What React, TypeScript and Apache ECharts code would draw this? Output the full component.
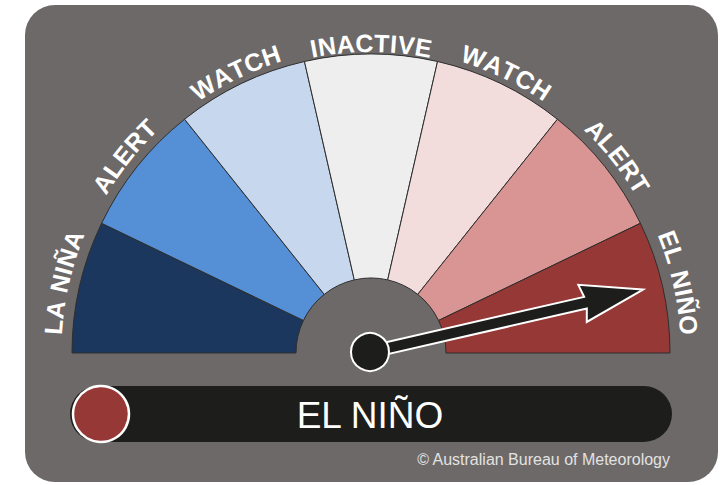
import React, { useEffect, useRef } from "react";
import * as echarts from "echarts";

// ---- data ----
const categories = ["LA NIÑA", "ALERT", "WATCH", "INACTIVE", "WATCH", "ALERT", "EL NIÑO"];
const bandValues = [1, 1, 1, 1, 1, 1, 1];
const needleValue = 6.5;
const credit = "© Australian Bureau of Meteorology";

// ---- style ----
const bandColors = ["#1b375d", "#558fd6", "#c6d7ee", "#eeeeee", "#f3dcdc", "#d99593", "#963835"];
const CX = 371;
const CY = 353;
const R_OUT = 299;
const R_IN = 75;
const FONT = '"Liberation Sans", Arial, Helvetica, sans-serif';

function buildArcLabels() {
  const canvas = document.createElement("canvas");
  const ctx = canvas.getContext("2d")!;
  const fs = 25;
  const spacing = 0.8;
  ctx.font = `bold ${fs}px ${FONT}`;
  const total = bandValues.reduce((a, b) => a + b, 0);
  const els: any[] = [];
  let acc = 0;
  categories.forEach((label, i) => {
    const mid = acc + bandValues[i] / 2;
    acc += bandValues[i];
    const theta = Math.PI - (mid / total) * Math.PI;
    const R = 310 + 9 * Math.abs(Math.cos(theta));
    const chars = Array.from(label);
    const widths = chars.map((c) => ctx.measureText(c).width);
    const len = widths.reduce((a, b) => a + b, 0) + spacing * (chars.length - 1);
    const t0 = theta + len / 2 / R;
    let off = 0;
    chars.forEach((c, k) => {
      const w = widths[k];
      const tc = t0 - (off + w / 2) / R;
      off += w + spacing;
      if (c === " ") return;
      els.push({
        type: "text",
        x: CX + R * Math.cos(tc),
        y: CY - R * Math.sin(tc),
        rotation: tc - Math.PI / 2,
        z: 50,
        style: {
          text: c,
          fill: "#ffffff",
          fontSize: fs,
          fontWeight: "bold",
          fontFamily: FONT,
          align: "center",
          verticalAlign: "middle",
        },
      });
    });
  });
  return els;
}

export default function App() {
  const ref = useRef<HTMLDivElement>(null);
  useEffect(() => {
    if (!ref.current) return;
    const chart = echarts.init(ref.current, undefined, { renderer: "svg" });
    const status = categories[Math.min(categories.length - 1, Math.floor(needleValue))];
    const option: any = {
      animation: false,
      backgroundColor: "#ffffff",
      graphic: [
        {
          type: "rect",
          z: -10,
          shape: { x: 25, y: 5, width: 693, height: 477, r: 30 },
          style: { fill: "#6d6968" },
          silent: true,
        },
        ...buildArcLabels(),
        {
          type: "rect",
          z: 40,
          shape: { x: 70, y: 386, width: 602, height: 56, r: 28 },
          style: { fill: "#1d1d1b" },
        },
        {
          type: "circle",
          z: 41,
          shape: { cx: 101, cy: 414, r: 28 },
          style: { fill: bandColors[Math.min(6, Math.floor(needleValue))], stroke: "#ffffff", lineWidth: 2.5 },
        },
        {
          type: "text",
          z: 41,
          x: 370,
          y: 415,
          style: {
            text: status,
            fill: "#ffffff",
            fontSize: 37,
            fontFamily: FONT,
            align: "center",
            verticalAlign: "middle",
          },
        },
        {
          type: "text",
          z: 41,
          x: 670,
          y: 459,
          style: {
            text: credit,
            fill: "#e2e2e2",
            fontSize: 16,
            fontFamily: FONT,
            align: "right",
            verticalAlign: "middle",
          },
        },
      ],
      series: [
        {
          type: "pie",
          z: 2,
          silent: true,
          center: [CX, CY],
          radius: [R_IN, R_OUT],
          startAngle: 180,
          endAngle: 0,
          clockwise: true,
          label: { show: false },
          labelLine: { show: false },
          emphasis: { disabled: true },
          itemStyle: { borderColor: "#2e2e2e", borderWidth: 1 },
          data: categories.map((name, i) => ({
            name,
            value: bandValues[i],
            itemStyle: { color: bandColors[i] },
          })),
        },
        {
          type: "gauge",
          z: 5,
          silent: true,
          center: [CX - 1, CY - 1],
          radius: 280,
          startAngle: 180,
          endAngle: 0,
          min: 0,
          max: bandValues.reduce((a, b) => a + b, 0),
          axisLine: { show: false },
          splitLine: { show: false },
          axisTick: { show: false },
          axisLabel: { show: false },
          title: { show: false },
          detail: { show: false },
          pointer: {
            show: true,
            icon: "path://M19 0 L38 62 L25 59 L25 280 L13 280 L13 59 L0 62 Z",
            length: "100%",
            width: 38,
            offsetCenter: [0, 0],
            keepAspect: false,
            itemStyle: { color: "#1d1d1b", borderColor: "#ffffff", borderWidth: 2 },
          },
          anchor: {
            show: true,
            showAbove: true,
            size: 38,
            itemStyle: { color: "#1d1d1b", borderColor: "#ffffff", borderWidth: 2 },
          },
          data: [{ value: needleValue, name: status }],
        },
      ],
    };
    chart.setOption(option);
    return () => chart.dispose();
  }, []);
  return (
    <div
      ref={ref}
      style={{ position: "absolute", left: 0, top: 0, width: 720, height: 485 }}
    />
  );
}
